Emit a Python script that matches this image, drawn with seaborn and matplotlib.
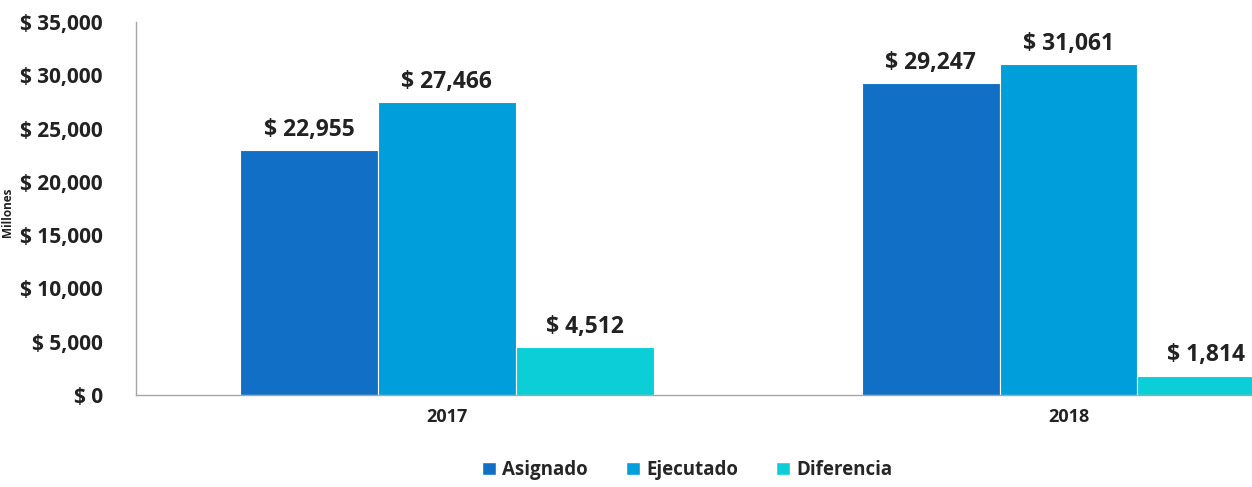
#!/usr/bin/env python3
"""
Presupuesto asignado vs ejecutado por año
"""

import pandas as pd
import matplotlib.pyplot as plt
import seaborn as sns
from matplotlib.patches import Patch

years = ["2017", "2018"]
series = ["Asignado", "Ejecutado", "Diferencia"]
asignado = [22955, 29247]
ejecutado = [27466, 31061]
diferencia = [4512, 1814]
y_ticks = [0, 5000, 10000, 15000, 20000, 25000, 30000, 35000]

colors = {"Asignado": "#1170C5", "Ejecutado": "#009EDB", "Diferencia": "#0BCED6"}

rows = []
for i, y in enumerate(years):
    rows.append((y, "Asignado", asignado[i]))
    rows.append((y, "Ejecutado", ejecutado[i]))
    rows.append((y, "Diferencia", diferencia[i]))
df = pd.DataFrame(rows, columns=["anio", "serie", "valor"])

sns.set_style("white")
plt.rcParams['font.family'] = ['Open Sans', 'DejaVu Sans']
plt.rcParams['font.weight'] = 'bold'

fig = plt.figure(figsize=(12.52, 4.87), dpi=100)
ax = fig.add_axes([136 / 1252, 1 - 395 / 487, 1 - 136 / 1252, (395 - 22) / 487])

sns.barplot(data=df, x="anio", y="valor", hue="serie", order=years,
            hue_order=series, palette=colors, width=0.665, ax=ax,
            edgecolor="white", linewidth=0.8, saturation=1, legend=False)

def money(v):
    return f"$ {v:,.0f}"

for cont in ax.containers:
    ax.bar_label(cont, labels=[money(b.get_height()) for b in cont],
                 padding=6, fontsize=16.5, fontweight='bold', color='#222222')

ax.set_xlim(-0.5, 1.295)
ax.set_ylim(0, 35000)
ax.set_yticks(y_ticks)
ax.set_yticklabels([money(t) for t in y_ticks], fontsize=15,
                   fontweight='bold', color='#222222')
ax.tick_params(axis='x', labelsize=13, colors='#222222', pad=9, length=0)
ax.tick_params(axis='y', length=0, pad=24)
for lbl in ax.get_xticklabels():
    lbl.set_fontweight('bold')
ax.set_xlabel("")
ax.set_ylabel("")
for s in ["top", "right"]:
    ax.spines[s].set_visible(False)
for s in ["left", "bottom"]:
    ax.spines[s].set_color("#A6A6A6")
    ax.spines[s].set_linewidth(1)

fig.text(8 / 1252, 1 - 212 / 487, "Millones", rotation=90, ha='center',
         va='center', fontsize=8.5, color='#222222')

handles = [Patch(facecolor=colors[s], label=s) for s in series]
fig.legend(handles=handles, loc='center', ncol=3,
           bbox_to_anchor=(687 / 1252, 1 - 470 / 487), frameon=False,
           fontsize=13.5, handlelength=0.75, handleheight=0.75,
           handletextpad=0.35, columnspacing=2.0)

plt.savefig("out.png", dpi=100)
plt.close()
